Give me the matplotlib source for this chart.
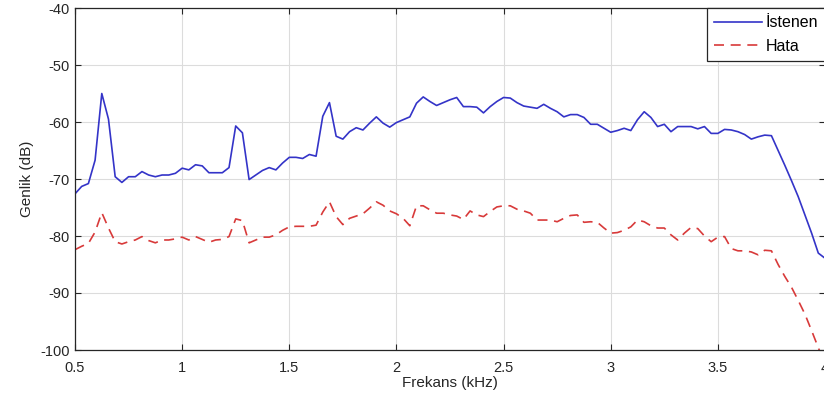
import numpy as np
import matplotlib
matplotlib.use('Agg')
from matplotlib import pyplot as plt

plt.rcParams['font.family'] = ['Liberation Sans', 'DejaVu Sans']
plt.rcParams['axes.unicode_minus'] = False

# frequency axis, 31.25 Hz spacing
freq_khz = np.arange(113) * 0.03125 + 0.5

istenen_db = [
    -72.6, -71.3, -70.8, -66.7, -55.0, -59.5, -69.6, -70.6, -69.6, -69.6,
    -68.7, -69.3, -69.6, -69.3, -69.3, -69.0, -68.1, -68.4, -67.5, -67.7,
    -68.9, -68.9, -68.9, -68.0, -60.7, -61.9, -70.1, -69.3, -68.5, -68.0,
    -68.4, -67.2, -66.2, -66.2, -66.4, -65.7, -66.0, -59.0, -56.6, -62.5,
    -63.0, -61.7, -61.0, -61.4, -60.2, -59.1, -60.2, -60.9, -60.1, -59.6,
    -59.1, -56.7, -55.6, -56.4, -57.1, -56.6, -56.1, -55.7, -57.3, -57.3,
    -57.4, -58.4, -57.3, -56.4, -55.7, -55.8, -56.6, -57.2, -57.4, -57.6,
    -56.9, -57.6, -58.2, -59.1, -58.7, -58.7, -59.2, -60.4, -60.4, -61.1,
    -61.8, -61.5, -61.1, -61.5, -59.6, -58.2, -59.2, -60.8, -60.4, -61.7,
    -60.8, -60.8, -60.8, -61.2, -60.8, -62.0, -62.0, -61.3, -61.4, -61.7,
    -62.2, -63.0, -62.6, -62.3, -62.4, -65.0, -67.6, -70.3, -73.1, -76.3,
    -79.5, -83.0, -83.9,
]

hata_db = [
    -82.4, -81.8, -81.3, -79.3, -75.9, -78.6, -81.0, -81.4, -81.0, -80.7,
    -80.1, -80.8, -81.2, -80.7, -80.7, -80.5, -80.2, -80.7, -80.1, -80.6,
    -81.1, -80.7, -80.6, -80.1, -77.0, -77.3, -81.2, -80.7, -80.2, -80.2,
    -79.8, -79.0, -78.4, -78.3, -78.3, -78.3, -78.1, -75.8, -74.0, -76.6,
    -78.0, -76.9, -76.5, -76.1, -75.1, -74.0, -74.6, -75.6, -76.1, -76.9,
    -78.2, -74.7, -74.7, -75.4, -76.0, -76.0, -76.3, -76.5, -77.1, -75.6,
    -76.3, -76.6, -75.7, -74.9, -74.7, -74.7, -75.3, -75.6, -76.0, -77.2,
    -77.2, -77.2, -77.5, -76.9, -76.4, -76.3, -77.6, -77.5, -77.6, -78.6,
    -79.5, -79.4, -79.0, -78.4, -77.2, -77.5, -78.2, -78.6, -78.6, -79.8,
    -80.7, -79.5, -78.5, -78.7, -80.0, -81.0, -80.2, -80.1, -82.2, -82.6,
    -82.6, -82.8, -83.3, -82.5, -82.6, -85.0, -87.1, -89.0, -91.3, -93.7,
    -96.6, -99.6, -102.5,
]

x_ticks = [0.5, 1, 1.5, 2, 2.5, 3, 3.5, 4]
x_tick_labels = ['0.5', '1', '1.5', '2', '2.5', '3', '3.5', '4']
y_ticks = [-100, -90, -80, -70, -60, -50, -40]

fig = plt.figure(figsize=(8.24, 4.01), dpi=100)
ax = fig.add_axes([75 / 824, 51 / 401, 750 / 824, 342 / 401])

ax.plot(freq_khz, istenen_db, color='#3434c8', lw=1.2, label='İstenen')
ax.plot(freq_khz, hata_db, color='#d83a3a', lw=1.2, linestyle=(0, (6, 4)), label='Hata')

ax.set_xlim(0.5, 4)
ax.set_ylim(-100, -40)
ax.set_xticks(x_ticks)
ax.set_xticklabels(x_tick_labels)
ax.set_yticks(y_ticks)

ax.grid(True, color='#dcdcdc', lw=0.8)
ax.set_axisbelow(True)
ax.tick_params(direction='in', top=True, right=True, length=4, width=0.8,
               labelsize=10.5, colors='#262626')
ax.tick_params(axis='x', pad=8)
ax.tick_params(axis='y', pad=4)
for s in ax.spines.values():
    s.set_color('#262626')
    s.set_linewidth(0.9)

ax.set_xlabel('Frekans (kHz)', fontsize=11, color='#262626', labelpad=1)
ax.set_ylabel('Genlik (dB)', fontsize=11, color='#262626', labelpad=4)

leg = ax.legend(loc='upper right', fontsize=11.5, handlelength=3.0,
                borderaxespad=0.0, fancybox=False, framealpha=1,
                labelspacing=0.55, handletextpad=0.2, borderpad=0.45)
leg.get_frame().set_edgecolor('#262626')
leg.get_frame().set_linewidth(0.9)

plt.savefig('out.png', dpi=100)
plt.close()
